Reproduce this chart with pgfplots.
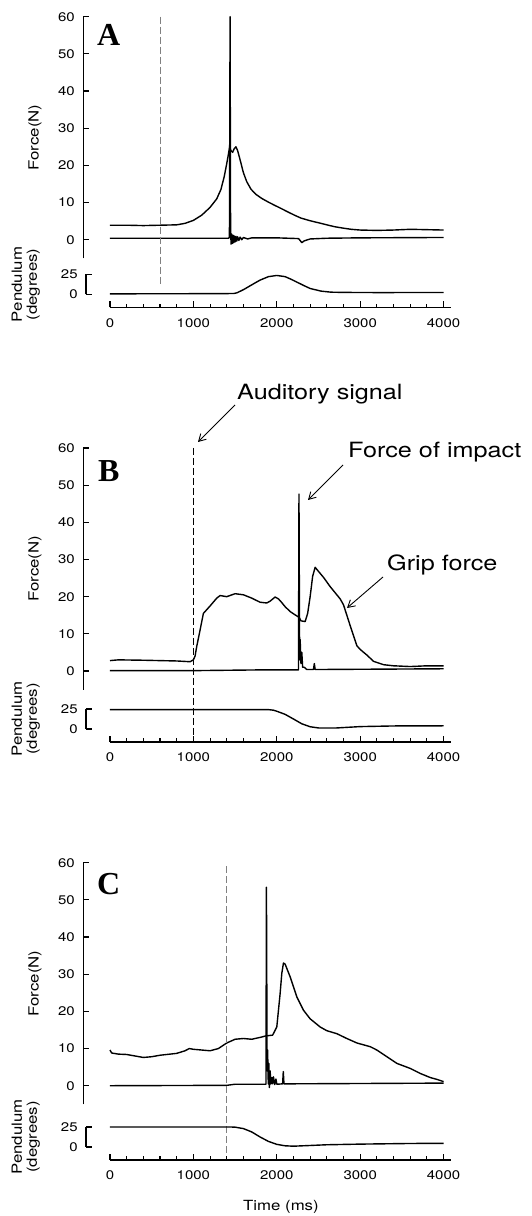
\documentclass[border=0pt]{standalone}
\usepackage{fontspec}
\setmainfont{TeX Gyre Heros}[FakeStretch=1.2]
\newfontfamily\letterfont{Liberation Serif}
\usepackage{pgfplots}
\pgfplotsset{compat=1.18}
\usetikzlibrary{arrows.meta}

\tikzset{
  trace/.style={black, line width=1.4pt, line join=round},
  axln/.style={black, line width=1.5pt},
}

% force panel: 0-60 N, pendulum panel: degrees, time in ms
\pgfplotsset{
  forceax/.style={
    x=0.0834pt, y=3.717pt, xmin=-320, xmax=4100, ymin=-5, ymax=60,
    anchor=south west, clip=false,
    axis lines*=left, axis line style={draw=none},
    xtick=\empty, ytick={0,10,...,60},
    tick align=inside, major tick length=6pt,
    tick style={line width=1.1pt, black},
    yticklabel style={font=\fontsize{12.5}{12.5}\selectfont, xshift=-5pt},
    ylabel={Force(N)},
    ylabel style={font=\fontsize{14}{14}\selectfont,
      at={(axis description cs:-0.131,0.5)}, anchor=center},
    /pgf/number format/assume math mode=true,
  },
  pendax/.style={
    x=0.0834pt, y=0.8pt, xmin=-290, xmax=4100, ymin=-16, ymax=41,
    anchor=south west, clip=false,
    axis lines*=left, axis line style={draw=none},
    xtick={0,1000,...,4000}, minor x tick num=4, ytick={0,25},
    scaled x ticks=false,
    /pgf/number format/set thousands separator={},
    /pgf/number format/assume math mode=true,
    tick align=inside, major tick length=6pt, minor tick length=3.5pt,
    tick style={line width=1.1pt, black},
    ticklabel style={font=\fontsize{12.5}{12.5}\selectfont},
    xticklabel style={yshift=-7.5pt},
    yticklabel style={xshift=-4.6pt},
    ylabel={Pendulum\\(degrees)},
    ylabel style={font=\fontsize{14}{15}\selectfont, align=center,
      at={(axis description cs:-0.164,0.5)}, anchor=center},
  },
}

\begin{document}
\begin{tikzpicture}
\path[use as bounding box] (0,0) rectangle (531pt,1216pt);

% ---------------- A ----------------
\begin{axis}[forceax, name=fa, at={(83.3pt,957.7pt)}]
\addplot[trace] coordinates {
(0,3.9) (200,3.9) (400,3.8) (600,3.9) (800,4.0) (900,4.4) (1000,5.2) (1100,6.6)
(1200,8.7) (1280,11) (1330,13.5) (1370,17) (1400,20.5) (1420,23) (1435,25)
(1450,24) (1470,23.5) (1490,24.5) (1510,25) (1530,24) (1560,21.5) (1600,18)
(1640,15.6) (1690,13.6) (1750,12.2) (1820,11.1) (1892,10.2) (1970,9.3)
(2052,8.4) (2130,7.5) (2212,6.6) (2292,5.8) (2400,5.1) (2492,4.6) (2600,4.0)
(2692,3.5) (2800,3.1) (2892,2.8) (3000,2.6) (3200,2.5) (3400,2.6) (3600,2.8)
(3800,2.7) (4000,2.6)
};
\addplot[trace] coordinates {
(0,0.4) (1000,0.4) (1420,0.4) (1432,0.6) (1440,60) (1446,3) (1452,-1.2)
(1460,1.5) (1468,-1.0) (1476,1.2) (1484,-0.8) (1492,1.0) (1500,-0.6)
(1510,0.9) (1520,-0.4) (1530,0.8) (1545,-0.2) (1560,0.7) (1580,0)
(1600,0.6) (1650,0.2) (1700,0.5) (2000,0.5) (2260,0.3) (2280,-0.2)
(2300,-0.8) (2330,-0.3) (2400,0.2) (2600,0.4) (3000,0.5) (4000,0.6)
};
\draw[gray, line width=0.8pt, dash pattern=on 7pt off 3pt] (axis cs:604,60) -- (axis cs:604,-12.6);
\end{axis}
\draw[axln] (fa.south west) -- (fa.north west);
\begin{axis}[pendax, at={(85.8pt,908.7pt)}]
\addplot[trace] coordinates {
(0,0.8) (1000,1.0) (1480,1.2) (1520,2.0) (1600,6) (1732,14) (1800,18)
(1900,22.3) (2000,23.8) (2100,22.3) (2172,19) (2250,15) (2332,10.8)
(2400,7.5) (2532,4.2) (2650,2.9) (2800,2.6) (3200,2.4) (4000,2.5)
};
\draw[axln] (axis cs:-290,0) -- (axis cs:-290,25);
\draw[axln] (axis cs:0,-16) -- (axis cs:4090,-16);
\end{axis}

% ---------------- B ----------------
\begin{axis}[forceax, name=fb, at={(83.3pt,526.4pt)}]
\addplot[trace] coordinates {
(0,2.8) (100,3.0) (400,2.9) (800,2.7) (960,2.5) (1000,3.0) (1020,4.0)
(1040,6.6) (1080,11) (1120,15.5) (1200,17.5) (1280,19.6) (1320,20.3)
(1400,20.0) (1500,20.8) (1600,20.5) (1700,19.6) (1800,18.5) (1880,18.3)
(1920,18.8) (1980,19.9) (2020,19.4) (2060,18.4) (2100,17.3) (2160,16.0)
(2220,15.1) (2270,14.4) (2290,13.5) (2340,13.3) (2370,15.5) (2400,20)
(2430,25.5) (2460,27.9) (2500,26.8) (2560,25.2) (2640,22.7) (2760,19.4)
(2800,17.8) (2880,12.2) (2960,6.8) (3000,5.8) (3080,4.3) (3160,2.6)
(3280,1.7) (3400,1.4) (3600,1.2) (3800,1.4) (4000,1.4)
};
\addplot[trace] coordinates {
(0,0.1) (1000,0.1) (1800,0.3) (2260,0.3) (2266,47.6) (2274,3) (2280,8.5)
(2290,2) (2300,5) (2310,1) (2330,1) (2360,0.4) (2440,0.4) (2450,2)
(2460,0.4) (4000,0.6)
};
\draw[black, line width=0.7pt, dash pattern=on 7pt off 3pt] (axis cs:1000,60) -- (axis cs:1000,-18);
\end{axis}
\draw[axln] (fb.south west) -- (fb.north west);
\begin{axis}[pendax, at={(85.8pt,474.2pt)}]
\addplot[trace] coordinates {
(0,24.2) (1000,24.2) (1900,24.2) (1960,23.5) (2000,22.2) (2100,18.3)
(2200,12.5) (2300,6.5) (2400,2.8) (2500,1.3) (2700,1.2) (3000,3.0)
(3400,3.8) (4000,4.0)
};
\draw[axln] (axis cs:-290,0) -- (axis cs:-290,25);
\draw[axln] (axis cs:0,-16) -- (axis cs:4090,-16);
\end{axis}

% ---------------- C ----------------
\begin{axis}[forceax, name=fc, at={(83.3pt,111.7pt)}]
\addplot[trace] coordinates {
(0,9.6) (20,8.8) (100,8.5) (200,8.4) (300,8.0) (400,7.6) (500,7.8) (600,8.2)
(800,8.7) (900,9.4) (950,10) (1000,9.8) (1100,9.6) (1200,9.4) (1300,10)
(1400,11.5) (1500,12.5) (1600,12.7) (1700,12.5) (1800,13) (1870,13.4)
(1950,13.6) (2000,15.8) (2040,24.8) (2060,30.2) (2080,33) (2100,32.7)
(2160,29.3) (2240,23.9) (2320,20.3) (2400,18) (2520,15.8) (2600,14.8)
(2720,14) (2840,12.7) (2960,11.5) (3120,10.5) (3200,9.6) (3320,7.8)
(3440,6.0) (3600,4.65) (3720,3.3) (3840,2.2) (3920,1.7) (4000,1.1)
};
\addplot[trace] coordinates {
(0,0) (1400,0.1) (1500,0.4) (1870,0.4) (1876,53.4) (1884,4) (1890,9.6)
(1898,0.5) (1905,6) (1912,-0.5) (1920,4) (1930,0.5) (1940,2.2) (1950,0.5)
(1960,2.4) (1975,0.3) (1990,1.8) (2000,0.4) (2070,0.5) (2078,3.8)
(2086,0.5) (4000,0.7)
};
\draw[gray, line width=0.8pt, dash pattern=on 7pt off 3pt] (axis cs:1400,59) -- (axis cs:1400,-19.4);
\end{axis}
\draw[axln] (fc.south west) -- (fc.north west);
\begin{axis}[pendax, at={(85.8pt,56.2pt)},
  xlabel={Time (ms)},
  xlabel style={font=\fontsize{14}{14}\selectfont,
    at={(axis description cs:0.533,0)}, anchor=center, yshift=-47pt}]
\addplot[trace] coordinates {
(0,25) (1000,25) (1450,25) (1500,24.8) (1600,23) (1700,18.8) (1800,12.5)
(1900,7.0) (2000,3.3) (2100,1.5) (2200,1.0) (2600,2.8) (3000,3.6)
(3600,4.4) (4000,4.6)
};
\draw[axln] (axis cs:-290,0) -- (axis cs:-290,25);
\draw[axln] (axis cs:0,-16) -- (axis cs:4090,-16);
\end{axis}

% panel letters
\node[anchor=north west, inner sep=0, font=\letterfont\fontsize{32}{32}\bfseries\selectfont] at (97pt,1192pt) {A};
\node[anchor=north west, inner sep=0, font=\letterfont\fontsize{32}{32}\bfseries\selectfont] at (98pt,756pt) {B};
\node[anchor=north west, inner sep=0, font=\letterfont\fontsize{32}{32}\bfseries\selectfont] at (97pt,343pt) {C};

% annotations in panel B
\node[anchor=base west, inner sep=0, font=\fontsize{21}{21}\selectfont] at (237pt,816pt) {Auditory signal};
\draw[line width=0.9pt, -{Straight Barb[length=7pt,width=8pt]}] (235pt,811pt) -- (198pt,774pt);
\node[anchor=base west, inner sep=0, font=\fontsize{21}{21}\selectfont] at (348pt,758pt) {Force of impact};
\draw[line width=0.9pt, -{Straight Barb[length=7pt,width=8pt]}] (343pt,751pt) -- (308pt,716pt);
\node[anchor=base west, inner sep=0, font=\fontsize{21}{21}\selectfont] at (387pt,645pt) {Grip force};
\draw[line width=0.9pt, -{Straight Barb[length=7pt,width=8pt]}] (383pt,639pt) -- (347pt,608pt);
\end{tikzpicture}
\end{document}
